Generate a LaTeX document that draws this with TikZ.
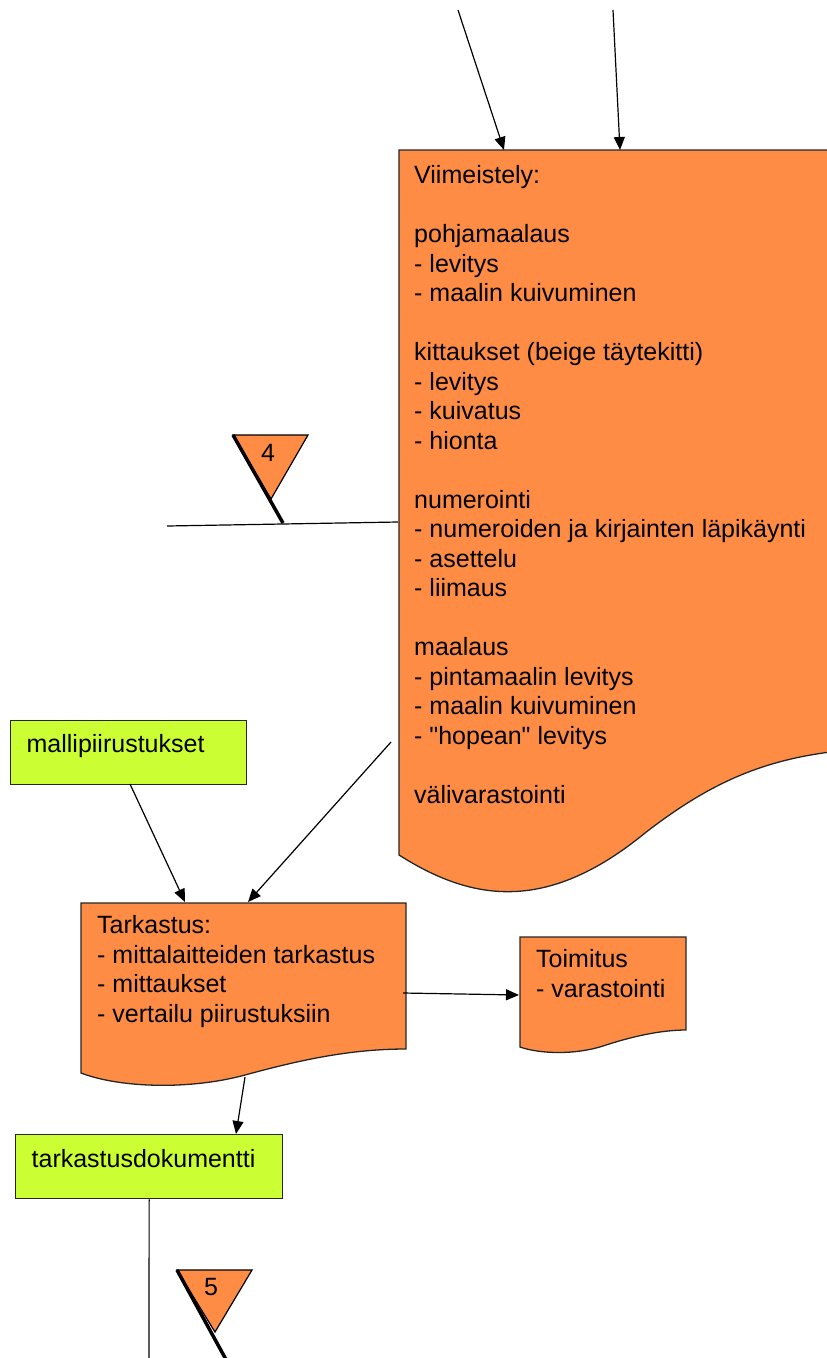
\documentclass[tikz,border=0pt]{standalone}
\usepackage{fontspec}
\setmainfont{Liberation Sans}
% same face without the TeX input mapping, so that " stays a straight quote
\newfontfamily\rawquotefont{Liberation Sans}[Ligatures=ResetAll]
\usetikzlibrary{arrows.meta}
\definecolor{procorange}{HTML}{FF8C45}
\definecolor{docgreen}{HTML}{CCFF33}
\newcommand{\straightquote}{{\rawquotefont\symbol{34}}}
\begin{document}
\begin{tikzpicture}[x=1pt,y=-1pt,
  conn/.style={line width=1.2pt, -{Triangle[length=13pt,width=11pt]}},
  plainline/.style={line width=1.2pt},
  procfill/.style={draw=black!85, line width=1.3pt, fill=procorange},
  % multi-line text nodes are placed by the baseline of their last line
  txt/.style={inner sep=0pt, anchor=base west, align=left, font=\fontsize{25}{29.5}\selectfont},
  databox/.style={draw=black!85, line width=1.3pt, fill=docgreen, anchor=north west,
    inner xsep=16pt, inner ysep=0pt, align=left, font=\fontsize{25}{29.5}\selectfont},
  flagtri/.style={draw=black, line width=1.2pt, fill=procorange, line join=miter},
  flagpole/.style={line width=3.5pt}
]
\useasboundingbox (0,0) rectangle (827,1358);
\clip (0,0) rectangle (827,1358);

% Finishing stage (document shape running off to the right)
\path[procfill] (399,150) -- (900,150) -- (900,748) -- (880,748)
  .. controls (780,752) and (720,775) .. (645,833)
  .. controls (545,915) and (470,900) .. (399,855) -- cycle;
\node[txt] (viim) at (414,803) {Viimeistely:\\[29.5pt]pohjamaalaus\\- levitys\\- maalin kuivuminen\\[29.5pt]kittaukset (beige täytekitti)\\- levitys\\- kuivatus\\- hionta\\[29.5pt]numerointi\\- numeroiden ja kirjainten läpikäynti\\- asettelu\\- liimaus\\[29.5pt]maalaus\\- pintamaalin levitys\\- maalin kuivuminen\\- \straightquote hopean\straightquote{} levitys\\[29.5pt]välivarastointi};
\coordinate (viim-in1) at (504,150);
\coordinate (viim-in2) at (620,150);
\coordinate (viim-side) at (398,522);
\coordinate (viim-out) at (391,742);
\coordinate (src1) at (458,10);
\coordinate (src2) at (613,10);

% Inspection document shape
\path[procfill] (81,903) -- (406,903) -- (406,1049)
  .. controls (350,1049) and (300,1060) .. (245,1075)
  .. controls (190,1090) and (120,1088) .. (81,1073) -- cycle;
\node[txt] (tark) at (97,1022) {Tarkastus:\\- mittalaitteiden tarkastus\\- mittaukset\\- vertailu piirustuksiin};
\coordinate (tark-in1) at (185,902);
\coordinate (tark-in2) at (248,902);
\coordinate (tark-right) at (403,993);
\coordinate (tark-bottom) at (245,1077);

% Delivery document shape
\path[procfill] (520,937) -- (686,937) -- (686,1030)
  .. controls (660,1030) and (630,1037) .. (603,1046)
  .. controls (575,1055) and (540,1054) .. (520,1047) -- cycle;
\node[txt] (toim) at (536,997) {Toimitus\\- varastointi};
\coordinate (toim-left) at (519,995);

% Data boxes
\node[databox, minimum width=236pt, text width=204pt, text height=32pt, text depth=32pt] (mall) at (10,720) {mallipiirustukset};
\coordinate (mall-out) at (130,784);
\node[databox, minimum width=267pt, text width=235pt, text height=33pt, text depth=31pt] (tdoc) at (15,1134) {tarkastusdokumentti};
\coordinate (tdoc-in) at (236,1134);
\coordinate (flow-end) at (149,1370);

% Storage marker 4
\coordinate (line4-start) at (167,526);
\path[flagtri] (233,435) -- (308,435) -- (271,499) -- cycle;
\node[inner sep=0pt, font=\fontsize{25}{29.5}\selectfont] (n4) at (268,453) {4};
\coordinate (pole4-top) at (233,435);
\coordinate (pole4-foot) at (283,523);
\draw[flagpole] (pole4-top) -- (pole4-foot);

% Storage marker 5
\path[flagtri] (177,1270) -- (252,1270) -- (215,1332) -- cycle;
\node[inner sep=0pt, font=\fontsize{25}{29.5}\selectfont] (n5) at (211,1287) {5};
\coordinate (pole5-top) at (177,1270);
\coordinate (pole5-foot) at (229,1365);
\draw[flagpole] (pole5-top) -- (pole5-foot);

% Connectors
\draw[conn] (src1) -- (viim-in1);
\draw[conn] (src2) -- (viim-in2);
\draw[plainline] (line4-start) -- (viim-side);
\draw[conn] (viim-out) -- (tark-in2);
\draw[conn] (mall-out) -- (tark-in1);
\draw[conn] (tark-right) -- (toim-left);
\draw[conn] (tark-bottom) -- (tdoc-in);
\draw[plainline] (tdoc.south) -- (flow-end);
\end{tikzpicture}
\end{document}
